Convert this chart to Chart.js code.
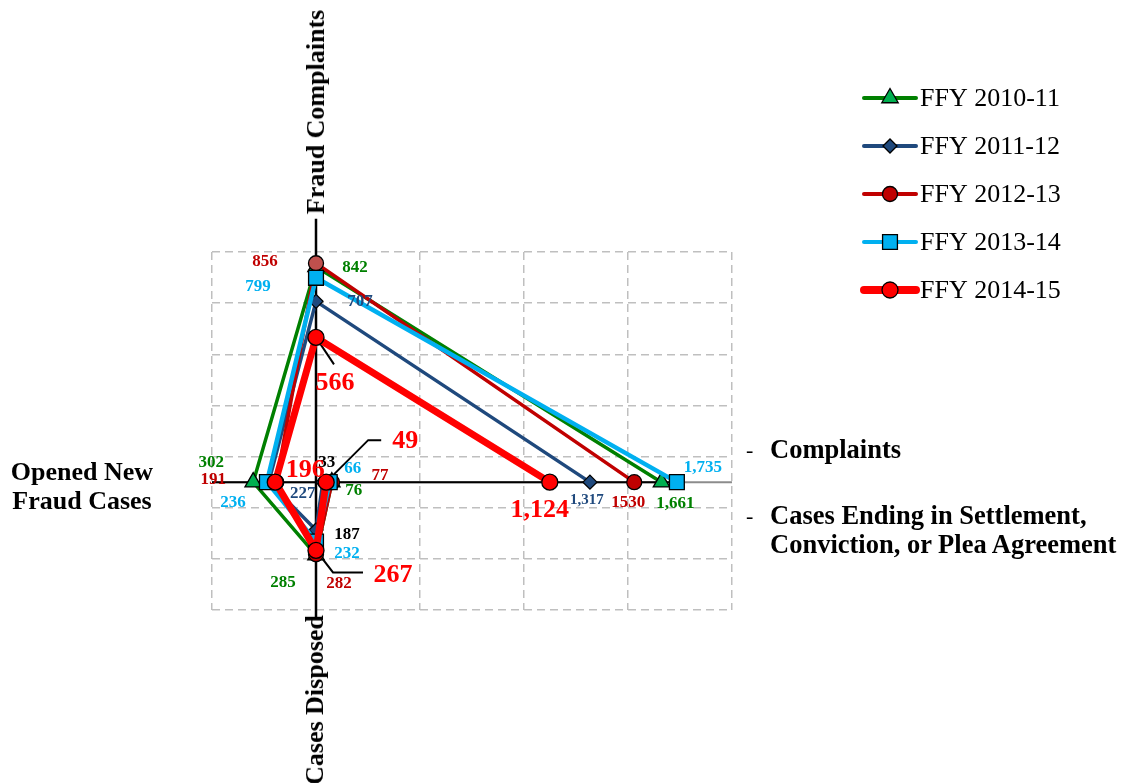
<!DOCTYPE html>
<html>
<head>
<meta charset="utf-8">
<title>Fraud Complaints and Cases, FFY 2010-11 to FFY 2014-15</title>
<script src="https://cdn.jsdelivr.net/npm/chart.js@4.4.1/dist/chart.umd.min.js"></script>
<style>
  html, body { margin: 0; padding: 0; background: #fff; }
  #wrap { position: relative; width: 1127px; height: 783px; overflow: hidden;
          font-family: "Liberation Serif", "Times New Roman", serif; }
  #wrap canvas { position: absolute; left: 0; top: 0; }
  .t { position: absolute; font-weight: bold; font-size: 26px; color: #000;
       white-space: nowrap; line-height: 1; }
  .rot { transform: translate(-50%, -50%) rotate(-90deg); }
  .note { position: absolute; font-weight: bold; font-size: 26.5px; color: #000;
          white-space: nowrap; line-height: 29px; }
  .dash { position: absolute; font-size: 22px; color: #000; line-height: 1; }
</style>
</head>
<body>
<div id="wrap">
  <canvas id="c" width="1127" height="783"></canvas>
  <div class="t rot" style="left:316px; top:112px;">Fraud Complaints</div>
  <div class="t rot" style="left:315px; top:700px;">Cases Disposed</div>
  <div class="t" style="left:82px; top:486px; transform:translate(-50%,-50%); text-align:center; line-height:29px;">Opened New<br>Fraud Cases</div>
  <div class="dash" style="left:746px; top:439px;">-</div>
  <div class="note" style="left:770px; top:435px;">Complaints</div>
  <div class="dash" style="left:746px; top:505px;">-</div>
  <div class="note" style="left:770px; top:501px;">Cases Ending in Settlement,<br>Conviction, or Plea Agreement</div>
</div>
<script>
// Four-way "diamond" view: each fiscal year is one polyline across the axes.
const categories = [
  'Fraud Complaints',                                          // up
  'Complaints',                                                // right (far)
  'Cases Ending in Settlement, Conviction, or Plea Agreement', // right (near)
  'Cases Disposed',                                            // down
  'Opened New Fraud Cases'                                     // left
];
const seriesNames = ['FFY 2010-11', 'FFY 2011-12', 'FFY 2012-13', 'FFY 2013-14', 'FFY 2014-15'];

// values in category order: [up, right far, right near, down, left]
const ffy2010_11 = [842, 1661, 76, 285, 302];
const ffy2011_12 = [707, 1317, 33, 187, 227];
const ffy2012_13 = [856, 1530, 77, 282, 191];
const ffy2013_14 = [799, 1735, 66, 232, 236];
const ffy2014_15 = [566, 1124, 49, 267, 196];
const seriesValues = [ffy2010_11, ffy2011_12, ffy2012_13, ffy2013_14, ffy2014_15];

const xTicks = [-500, 0, 500, 1000, 1500, 2000];
const yTicks = [-500, -300, -100, 100, 300, 500, 700, 900];

// direction of each category axis
const axisDir = [[0, 1], [1, 0], [1, 0], [0, -1], [-1, 0]];
// order the polyline visits the categories: near -> down -> left -> up -> far
const pathOrder = [2, 3, 4, 0, 1];

// ---- styles ----
const lineColors   = ['#008000', '#1F497D', '#C00000', '#00B0F0', '#FF0000'];
const markerFills  = ['#00B050', '#1F497D', '#C00000', '#00B0F0', '#FF0000'];
const labelColors  = ['#008000', '#1F497D', '#C00000', '#00B0F0', '#FF0000'];
const lineWidths   = [3.5, 3.5, 3.5, 4.5, 7];
const legendWidths = [4, 4, 4, 4, 8];
const pointStyles  = ['triangle', 'rectRot', 'circle', 'rect', 'circle'];
const pointRadii   = [9.5, 7, 7.5, 10.5, 8];
const labelSizes   = [17, 17, 17, 17, 26];

// label offsets in px from the marker, category order
const labelOffsets = [
  [[39, 1],   [14, 21], [22, 8],   [-33, 28], [-42, -20]],
  [[44, 0],   [-3, 18], [4, -20],  [31, 5],   [34, 11]],
  [[-51, -2], [-6, 20], [48, -7],  [23, 29],  [-63, -3]],
  [[-58, 9],  [26, -15],[23, -14], [31, 12],  [-34, 20]],
  [[19, 46],  [-10, 28],[79, -41], [77, 25],  [30, -12]]
];
// label colour / size / format exceptions: [series, category, value]
const labelColorOverride = [[1, 2, '#000'], [1, 3, '#000']];
const labelSizeOverride  = [[1, 1, 15]];
const ungroupedLabels    = [[2, 1]];
// leader lines (series, category, list of px offsets from the marker)
const leaders = [
  [4, 0, [[0, 0], [18, 27]]],
  [4, 2, [[0, 0], [42, -42], [55, -42]]],
  [4, 3, [[0, 0], [17, 22], [47, 22]]]
];

function findOverride(list, s, c) {
  const hit = list.find(o => o[0] === s && o[1] === c);
  return hit ? hit[2] : undefined;
}
function isUngrouped(s, c) {
  return ungroupedLabels.some(u => u[0] === s && u[1] === c);
}

const datasets = seriesValues.map((vals, s) => {
  const pts = pathOrder.map(c => ({ x: axisDir[c][0] * vals[c], y: axisDir[c][1] * vals[c], cat: c }));
  let fills = markerFills[s];
  if (s === 2) fills = pathOrder.map(c => (c === 0 ? '#C0504D' : markerFills[s]));
  return {
    label: seriesNames[s],
    data: pts,
    showLine: true,
    borderColor: lineColors[s],
    borderWidth: lineWidths[s],
    borderJoinStyle: 'round',
    borderCapStyle: 'round',
    tension: 0,
    pointStyle: pointStyles[s],
    pointRadius: pointRadii[s],
    pointHoverRadius: pointRadii[s],
    pointBackgroundColor: fills,
    pointBorderColor: '#000',
    pointBorderWidth: 1.3,
    order: 4 - s,
    clip: false
  };
});

const axisLines = {
  id: 'axisLines',
  beforeDatasetsDraw(chart) {
    const { ctx, scales: { x, y } } = chart;
    const x0 = x.getPixelForValue(0), y0 = y.getPixelForValue(0);
    const xl = x.getPixelForValue(xTicks[0]), xr = x.getPixelForValue(xTicks[xTicks.length - 1]);
    const farMax = Math.max(...seriesValues.map(v => v[1]));
    ctx.save();
    ctx.setLineDash([]);
    ctx.lineCap = 'butt';
    // horizontal axis: grey across, black under the data
    ctx.strokeStyle = '#8c8c8c'; ctx.lineWidth = 2;
    ctx.beginPath(); ctx.moveTo(xl, y0); ctx.lineTo(xr, y0); ctx.stroke();
    ctx.strokeStyle = '#000'; ctx.lineWidth = 2;
    ctx.beginPath(); ctx.moveTo(xl, y0); ctx.lineTo(x.getPixelForValue(farMax), y0); ctx.stroke();
    // vertical axis
    ctx.lineWidth = 2.5;
    ctx.beginPath(); ctx.moveTo(x0, y.getPixelForValue(1030)); ctx.lineTo(x0, y.getPixelForValue(-535)); ctx.stroke();
    // leader lines to the callout labels
    ctx.lineWidth = 2;
    leaders.forEach(([s, c, pts]) => {
      const meta = chart.getDatasetMeta(s);
      const el = meta.data[pathOrder.indexOf(c)];
      ctx.beginPath();
      pts.forEach(([dx, dy], i) => {
        if (i === 0) ctx.moveTo(el.x + dx, el.y + dy); else ctx.lineTo(el.x + dx, el.y + dy);
      });
      ctx.stroke();
    });
    ctx.restore();
  }
};

const valueLabels = {
  id: 'valueLabels',
  afterDatasetsDraw(chart) {
    const { ctx } = chart;
    ctx.save();
    ctx.textAlign = 'center';
    ctx.textBaseline = 'middle';
    seriesValues.forEach((vals, s) => {
      const meta = chart.getDatasetMeta(s);
      meta.data.forEach((el, j) => {
        const c = pathOrder[j];
        const v = vals[c];
        const text = isUngrouped(s, c) ? String(v) : v.toLocaleString('en-US');
        const size = findOverride(labelSizeOverride, s, c) || labelSizes[s];
        ctx.font = 'bold ' + size + 'px "Liberation Serif", "Times New Roman", serif';
        ctx.fillStyle = findOverride(labelColorOverride, s, c) || labelColors[s];
        const [dx, dy] = labelOffsets[s][c];
        ctx.fillText(text, el.x + dx, el.y + dy);
      });
    });
    ctx.restore();
  }
};

const sideLegend = {
  id: 'sideLegend',
  afterDraw(chart) {
    const { ctx } = chart;
    ctx.save();
    chart.data.datasets.forEach((ds, i) => {
      const yy = 98 + i * 48;
      ctx.strokeStyle = ds.borderColor;
      ctx.lineWidth = legendWidths[i];
      ctx.lineCap = 'round';
      ctx.setLineDash([]);
      ctx.beginPath(); ctx.moveTo(864, yy); ctx.lineTo(916, yy); ctx.stroke();
      ctx.fillStyle = markerFills[i];
      ctx.strokeStyle = '#000';
      ctx.lineWidth = 1.3;
      Chart.helpers.drawPoint(ctx, { pointStyle: ds.pointStyle, radius: ds.pointRadius, borderWidth: 1.3, rotation: 0 }, 890, yy);
      ctx.fillStyle = '#000';
      ctx.font = '26px "Liberation Serif", "Times New Roman", serif';
      ctx.textAlign = 'left';
      ctx.textBaseline = 'middle';
      ctx.fillText(ds.label, 920, yy + 1);
    });
    ctx.restore();
  }
};

const gridOpts = { color: '#BFBFBF', lineWidth: 1.5, drawTicks: false };
const borderOpts = { display: false, dash: [8, 5] };

new Chart(document.getElementById('c'), {
  type: 'scatter',
  data: { datasets },
  options: {
    responsive: false,
    animation: false,
    events: [],
    layout: { padding: { left: 212, right: 395, top: 252, bottom: 173 } },
    plugins: { legend: { display: false }, tooltip: { enabled: false } },
    scales: {
      x: {
        type: 'linear', min: xTicks[0], max: xTicks[xTicks.length - 1],
        afterBuildTicks: s => { s.ticks = xTicks.map(v => ({ value: v })); },
        ticks: { display: false }, grid: gridOpts, border: borderOpts
      },
      y: {
        type: 'linear', min: yTicks[0], max: yTicks[yTicks.length - 1],
        afterBuildTicks: s => { s.ticks = yTicks.map(v => ({ value: v })); },
        ticks: { display: false }, grid: gridOpts, border: borderOpts
      }
    }
  },
  plugins: [axisLines, valueLabels, sideLegend]
});
</script>
</body>
</html>
